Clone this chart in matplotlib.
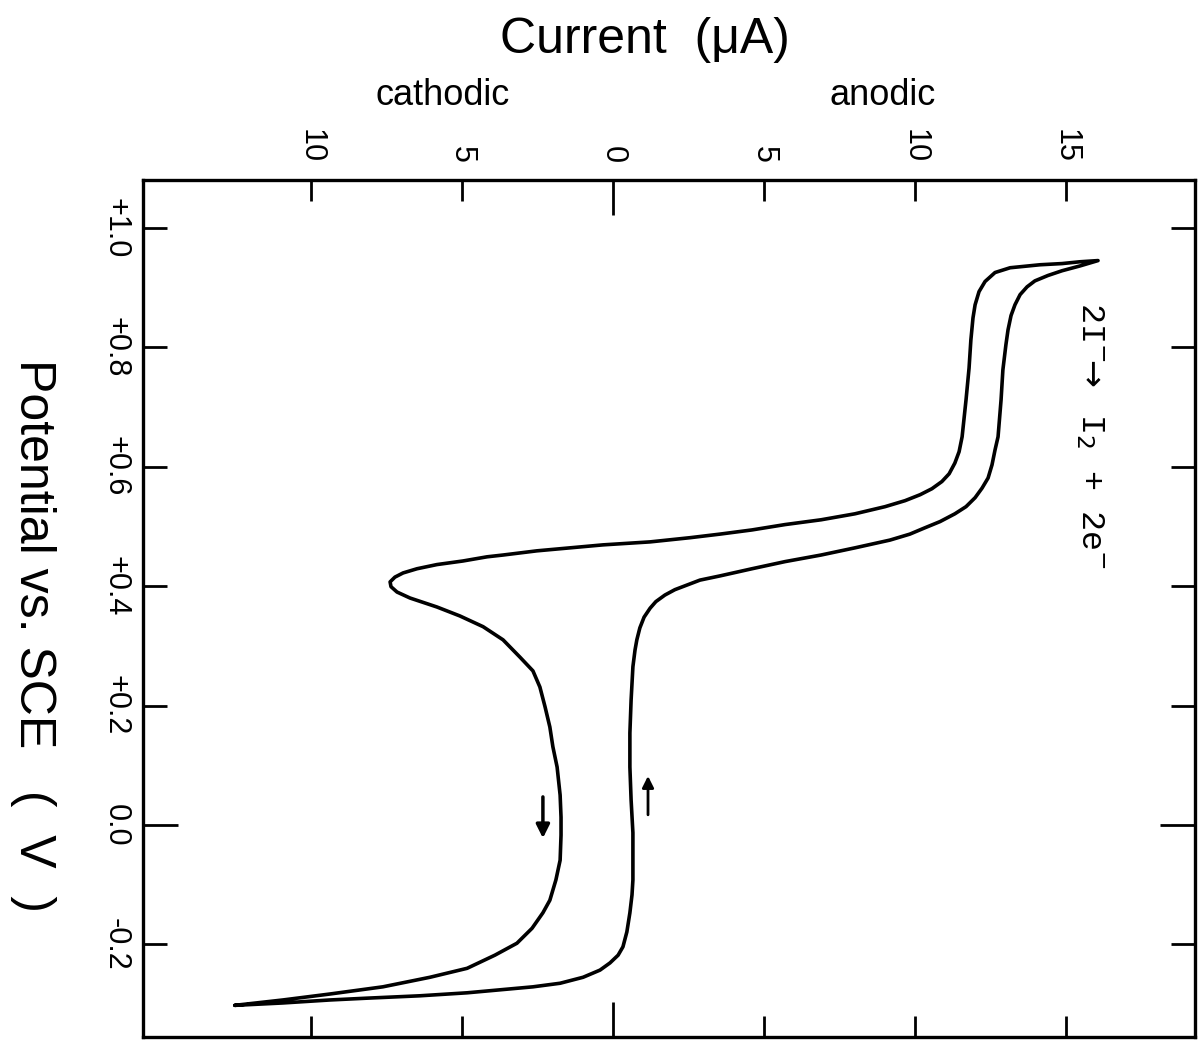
import numpy as np
import matplotlib.pyplot as plt

plt.rcParams['font.family'] = ['Liberation Sans', 'DejaVu Sans']

# anodic sweep: -0.30 V up to +0.95 V
fwd_potential = [-0.302, -0.298, -0.293, -0.290, -0.286, -0.281, -0.276, -0.271,
                 -0.265, -0.255, -0.243, -0.231, -0.218, -0.204, -0.179, -0.147,
                 -0.117, -0.092, -0.013, 0.042, 0.097, 0.154, 0.209, 0.265,
                 0.293, 0.310, 0.330, 0.348, 0.363, 0.374, 0.385, 0.394,
                 0.410, 0.417, 0.429, 0.441, 0.452, 0.464, 0.477, 0.487,
                 0.497, 0.508, 0.521, 0.533, 0.548, 0.564, 0.581, 0.603,
                 0.628, 0.650, 0.712, 0.762, 0.804, 0.829, 0.853, 0.871,
                 0.888, 0.901, 0.911, 0.920, 0.928, 0.936, 0.945]
fwd_current = [-12.52, -10.93, -9.37, -8.15, -6.39, -4.83, -3.74, -2.65,
               -1.75, -0.99, -0.43, -0.10, 0.17, 0.33, 0.46, 0.56,
               0.63, 0.66, 0.66, 0.60, 0.56, 0.56, 0.60, 0.66,
               0.73, 0.79, 0.89, 1.03, 1.23, 1.42, 1.72, 2.05,
               2.88, 3.54, 4.60, 5.70, 6.89, 8.01, 9.17, 9.83,
               10.30, 10.83, 11.32, 11.69, 11.99, 12.22, 12.42, 12.55,
               12.65, 12.75, 12.85, 12.91, 13.01, 13.08, 13.18, 13.31,
               13.48, 13.71, 13.97, 14.40, 14.87, 15.46, 16.06]

# return sweep: +0.95 V back down to -0.30 V
rev_potential = [0.945, 0.943, 0.940, 0.938, 0.933, 0.925, 0.910, 0.893,
                 0.871, 0.849, 0.812, 0.765, 0.712, 0.650, 0.625, 0.606,
                 0.588, 0.575, 0.563, 0.553, 0.543, 0.533, 0.521, 0.511,
                 0.503, 0.494, 0.487, 0.481, 0.474, 0.469, 0.464, 0.459,
                 0.452, 0.449, 0.442, 0.436, 0.429, 0.422, 0.415, 0.407,
                 0.399, 0.390, 0.380, 0.365, 0.350, 0.332, 0.310, 0.281,
                 0.258, 0.231, 0.198, 0.164, 0.131, 0.097, 0.050, 0.013,
                 -0.017, -0.059, -0.092, -0.126, -0.147, -0.173, -0.198, -0.218,
                 -0.240, -0.255, -0.271, -0.283, -0.293, -0.302]
rev_current = [16.06, 15.46, 14.87, 14.14, 13.15, 12.65, 12.32, 12.12,
               11.99, 11.92, 11.85, 11.79, 11.69, 11.56, 11.46, 11.32,
               11.13, 10.89, 10.56, 10.17, 9.67, 9.01, 8.01, 6.89,
               5.70, 4.60, 3.54, 2.55, 1.23, -0.33, -1.42, -2.52,
               -3.64, -4.17, -4.97, -5.83, -6.49, -6.95, -7.22, -7.38,
               -7.35, -7.15, -6.72, -5.83, -5.07, -4.30, -3.64, -3.08,
               -2.65, -2.42, -2.25, -2.09, -1.99, -1.85, -1.75, -1.72,
               -1.72, -1.75, -1.89, -2.09, -2.32, -2.68, -3.18, -3.91,
               -4.83, -6.06, -7.62, -9.37, -10.93, -12.52]

pot_ticks = [1.0, 0.8, 0.6, 0.4, 0.2, 0.0, -0.2]
pot_labels = ['+1.0', '+0.8', '+0.6', '+0.4', '+0.2', '0.0', '-0.2']
cur_ticks = [-10, -5, 0, 5, 10, 15]
cur_labels = ['10', '5', '0', '5', '10', '15']

fig = plt.figure(figsize=(12.04, 10.42), dpi=100)
ax = fig.add_axes([0.1188, 0.0048, 0.8737, 0.8225])

ax.plot(np.r_[fwd_current, rev_current], np.r_[fwd_potential, rev_potential],
        color='black', lw=2.6, solid_joinstyle='round', solid_capstyle='round')

ax.set_xlim(-15.56, 19.27)
ax.set_ylim(-0.355, 1.080)

ax.set_xticks(cur_ticks)
ax.set_xticklabels(cur_labels)
ax.set_yticks(pot_ticks)
ax.set_yticklabels(pot_labels)

ax.tick_params(axis='x', direction='in', top=True, bottom=True,
               labeltop=True, labelbottom=False, length=15, width=2,
               labelsize=22, labelrotation=-90, pad=12)
ax.tick_params(axis='y', direction='in', left=True, right=True,
               labelleft=True, labelright=False, length=17, width=2,
               labelsize=22, labelrotation=-90, pad=9)
for lab in ax.get_yticklabels():
    lab.set_va('center')

# the zero ticks are drawn longer
for t, v in zip(ax.xaxis.get_major_ticks(), cur_ticks):
    if v == 0:
        t.tick1line.set_markersize(25)
        t.tick2line.set_markersize(25)
for t, v in zip(ax.yaxis.get_major_ticks(), pot_ticks):
    if v == 0:
        t.tick1line.set_markersize(25)
        t.tick2line.set_markersize(25)

for sp in ax.spines.values():
    sp.set_linewidth(2.4)

# sweep direction arrows
ax.annotate('', xy=(-2.32, -0.022), xytext=(-2.32, 0.047),
            arrowprops=dict(arrowstyle='-|>', lw=2.5, color='black',
                            mutation_scale=20, shrinkA=0, shrinkB=0))
ax.annotate('', xy=(1.16, 0.082), xytext=(1.16, 0.017),
            arrowprops=dict(arrowstyle='-|>', lw=2.0, color='black',
                            mutation_scale=17, shrinkA=0, shrinkB=0))

ax.text(15.8, 0.652, r'2I$^{-}\!\!\rightarrow$ I$_2$ + 2e$^{-}$', rotation=-90,
        ha='center', va='center', fontsize=24,
        family=['Liberation Mono', 'DejaVu Sans Mono'])

fig.text(0.536, 0.962, 'Current  (\u03bcA)', ha='center', va='center', fontsize=36)
fig.text(0.368, 0.908, 'cathodic', ha='center', va='center', fontsize=26)
fig.text(0.733, 0.908, 'anodic', ha='center', va='center', fontsize=26)
fig.text(0.027, 0.39, 'Potential vs. SCE   (  V  )', rotation=-90,
         ha='center', va='center', fontsize=36)

fig.savefig('out.png', dpi=100)
